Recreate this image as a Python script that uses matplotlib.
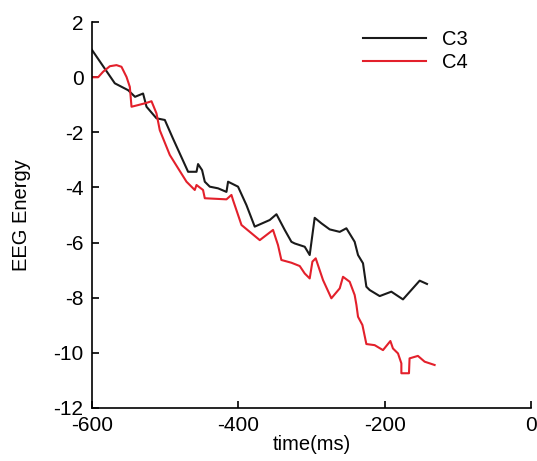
import matplotlib
matplotlib.use('Agg')
import matplotlib.pyplot as plt

plt.rcParams['font.family'] = ['Liberation Sans', 'DejaVu Sans']
plt.rcParams['axes.unicode_minus'] = False

# C3 trace (time in ms, EEG energy)
c3_t = [-600, -568.6, -550.4, -541, -530, -525.3, -511.7, -500.3, -489.4,
        -468.5, -457, -454.9, -449.4, -445.7, -438.9, -427.6, -416.1, -413.9,
        -400.3, -388.8, -377.5, -357, -347.8, -336.5, -327.4, -322.9, -309.2,
        -302.4, -295.6, -286.4, -275.1, -261.4, -252.3, -241, -236.4, -229.6,
        -225, -220.5, -206.8, -190.9, -175, -152.2, -142.2]
c3_e = [1.0, -0.22, -0.47, -0.71, -0.59, -1.07, -1.49, -1.55, -2.21,
        -3.43, -3.43, -3.15, -3.37, -3.79, -3.97, -4.03, -4.16, -3.79,
        -3.97, -4.64, -5.42, -5.18, -4.97, -5.54, -5.97, -6.03, -6.15,
        -6.45, -5.10, -5.30, -5.52, -5.61, -5.48, -5.97, -6.45, -6.75,
        -7.60, -7.72, -7.94, -7.78, -8.06, -7.38, -7.50]

# C4 trace
c4_t = [-600, -591.4, -584.6, -575.4, -566.3, -559.5, -552.6, -548.1, -545.8,
        -536.8, -525.3, -518.5, -511.7, -507.2, -493.5, -470.7, -459.4, -457,
        -448.1, -445.7, -416.1, -409.3, -407.1, -395.6, -370.6, -352.5, -345.7,
        -341.1, -327.4, -316.0, -309.2, -302.4, -298.7, -294.2, -284.2, -272.8,
        -261.4, -256.9, -247.8, -241, -238.6, -236.4, -230.4, -225, -213.7,
        -202.3, -192.2, -188.7, -181.8, -177.2, -177.2, -166.8, -166, -154.6,
        -145.4, -131.8]
c4_e = [0.0, 0.0, 0.2, 0.4, 0.44, 0.38, 0.01, -0.35, -1.07,
        -1.01, -0.93, -0.87, -1.31, -1.92, -2.82, -3.79, -4.09, -3.91,
        -4.09, -4.39, -4.43, -4.27, -4.46, -5.36, -5.91, -5.54, -6.09,
        -6.63, -6.73, -6.85, -7.12, -7.30, -6.69, -6.57, -7.36, -8.02,
        -7.66, -7.24, -7.42, -7.90, -8.26, -8.69, -8.99, -9.68, -9.72,
        -9.90, -9.57, -9.84, -10.02, -10.38, -10.74, -10.74, -10.20, -10.11,
        -10.32, -10.44]

fig = plt.figure(figsize=(5.37, 4.61), dpi=100)
ax = fig.add_axes([0.171, 0.115, 0.818, 0.837])

ax.plot(c3_t, c3_e, color='#1a1a1a', lw=1.5, label='C3')
ax.plot(c4_t, c4_e, color='#e3202b', lw=1.5, label='C4')

ax.set_xlim(-600, 0)
ax.set_ylim(-12, 2)
ax.set_xticks([-600, -400, -200, 0])
ax.set_yticks(range(-12, 3, 2))
ax.spines['top'].set_visible(False)
ax.spines['right'].set_visible(False)
for s in ['left', 'bottom']:
    ax.spines[s].set_linewidth(1.2)
ax.tick_params(direction='in', length=5, width=1.2, labelsize=15, pad=6)

ax.set_xlabel('time(ms)', fontsize=14.5, labelpad=0)
ax.set_ylabel('EEG Energy', fontsize=14.5, labelpad=16)

ax.legend(loc='upper left', bbox_to_anchor=(0.59, 1.01), frameon=False,
          fontsize=14.5, handlelength=3.1, handletextpad=0.8, labelspacing=0.2,
          borderaxespad=0.2)

fig.savefig('out.png', dpi=100)
